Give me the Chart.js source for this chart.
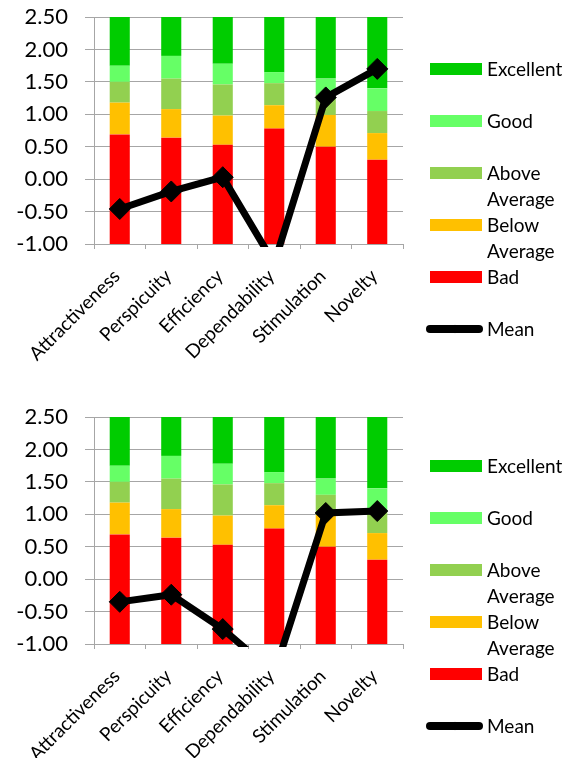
<!DOCTYPE html>
<html>
<head>
<meta charset="utf-8">
<script src="https://cdn.jsdelivr.net/npm/chart.js@4.4.1/dist/chart.umd.min.js"></script>
<style>
    html, body { margin: 0; padding: 0; background: #fff; overflow: hidden; }
    .blk { position: absolute; left: 0; width: 574px; height: 400px; }
    .leg { position: absolute; left: 426px; font-family: Lato, sans-serif; font-size: 19px; color: #000; }
    .item { position: relative; height: 52px; }
    .item .sw { position: absolute; left: 4px; top: 7px; width: 52px; height: 12px; }
    .item .tx { position: absolute; left: 61px; top: 0; width: 90px; line-height: 26px; }
    .item .ln { position: absolute; left: 0; top: 9px; width: 57px; height: 8px; border-radius: 4px; background: #000; }
    .item .dm { position: absolute; left: 26px; top: 10px; width: 6px; height: 6px; background: #000; transform: rotate(45deg); }
</style>
</head>
<body>

<div class="blk" style="top:0">
    <canvas id="chart-top" width="574" height="400"></canvas>
    <div class="leg" id="leg-top" style="top:56px"></div>
</div>
<div class="blk" style="top:400px">
    <canvas id="chart-bottom" width="574" height="400"></canvas>
    <div class="leg" id="leg-bottom" style="top:53px"></div>
</div>

<script>
/* ============================================================
   DATOS
============================================================ */
const categorias = ["Attractiveness", "Perspicuity", "Efficiency", "Dependability", "Stimulation", "Novelty"];

// límites superiores de cada franja del benchmark
const limiteBad       = [0.69, 0.64, 0.53, 0.78, 0.50, 0.30];
const limiteBelow     = [1.18, 1.08, 0.98, 1.14, 0.99, 0.71];
const limiteAbove     = [1.50, 1.55, 1.46, 1.48, 1.30, 1.05];
const limiteGood      = [1.75, 1.90, 1.78, 1.65, 1.55, 1.40];
const limiteExcellent = [2.50, 2.50, 2.50, 2.50, 2.50, 2.50];

const mediaArriba = [-0.46, -0.19, 0.03, -1.30, 1.26, 1.70];
const mediaAbajo  = [-0.35, -0.24, -0.77, -1.45, 1.02, 1.05];

const ejeMin = -1.0;
const ejeMax = 2.5;
const ejePaso = 0.5;

const franjas = [
    { label: "Bad",           tope: limiteBad,       color: "#FF0000" },
    { label: "Below Average", tope: limiteBelow,     color: "#FFC000" },
    { label: "Above Average", tope: limiteAbove,     color: "#92D050" },
    { label: "Good",          tope: limiteGood,      color: "#66FF66" },
    { label: "Excellent",     tope: limiteExcellent, color: "#00CC00" }
];

const GRIS = "#a6a6a6";
const FUENTE = "Lato, sans-serif";

/* ============================================================
   DATASETS
============================================================ */
function armarDatasets(medias) {
    const ds = [];
    let base = categorias.map(() => ejeMin);

    for (const f of franjas) {
        const piso = base;
        ds.push({
            type: "bar",
            label: f.label,
            data: f.tope.map((t, i) => [piso[i], t]),
            backgroundColor: f.color,
            borderWidth: 0,
            categoryPercentage: 1,
            barPercentage: 0.39,
            order: 1
        });
        base = f.tope;
    }

    ds.push({
        type: "line",
        label: "Mean",
        data: medias,
        borderColor: "#000",
        backgroundColor: "#000",
        borderWidth: 7,
        pointStyle: "rectRot",
        pointRadius: 10.5,
        pointBorderWidth: 1,
        pointBackgroundColor: "#000",
        pointBorderColor: "#000",
        tension: 0,
        clip: { left: 20, right: 20, top: 20, bottom: 3 },
        order: 0
    });

    return ds;
}

/* ============================================================
   LEYENDA
============================================================ */
function armarLeyenda(chart, idLeyenda) {
    const cont = document.getElementById(idLeyenda);
    cont.innerHTML = "";

    const lista = chart.data.datasets.filter(d => d.type === "bar").slice().reverse();

    for (const d of lista) {
        const it = document.createElement("div");
        it.className = "item";
        it.innerHTML = `<div class="sw" style="background:${d.backgroundColor}"></div><div class="tx">${d.label}</div>`;
        cont.appendChild(it);
    }

    const linea = chart.data.datasets.find(d => d.type === "line");
    const it = document.createElement("div");
    it.className = "item";
    it.innerHTML = `<div class="ln"></div><div class="dm"></div><div class="tx">${linea.label}</div>`;
    cont.appendChild(it);
}

/* ============================================================
   GRÁFICO
============================================================ */
function crearGrafico(idCanvas, medias, idLeyenda) {
    const ctx = document.getElementById(idCanvas);

    const chart = new Chart(ctx, {
        type: "bar",
        data: {
            labels: categorias,
            datasets: armarDatasets(medias)
        },
        options: {
            responsive: false,
            animation: false,
            layout: { padding: { top: 17, right: 171, left: 0, bottom: 0 } },
            plugins: {
                legend: { display: false },
                tooltip: { enabled: false }
            },
            scales: {
                x: {
                    stacked: true,
                    offset: true,
                    afterFit: s => { s.height = 156; },
                    grid: {
                        display: true,
                        drawOnChartArea: false,
                        drawTicks: true,
                        tickLength: 5,
                        offset: true,
                        color: GRIS
                    },
                    border: { display: true, color: GRIS },
                    ticks: {
                        color: "#000",
                        font: { family: FUENTE, size: 19 },
                        minRotation: 45,
                        maxRotation: 45,
                        padding: 16,
                        labelOffset: -3,
                        autoSkip: false
                    }
                },
                y: {
                    stacked: false,
                    min: ejeMin,
                    max: ejeMax,
                    afterFit: s => { s.width = 94; s.paddingTop = 0; s.paddingBottom = 0; },
                    grid: { color: GRIS, tickLength: 9 },
                    border: { display: true, color: GRIS },
                    ticks: {
                        stepSize: ejePaso,
                        color: "#000",
                        padding: 17,
                        font: { family: FUENTE, size: 22 },
                        callback: v => Number(v).toFixed(2)
                    }
                }
            }
        }
    });

    armarLeyenda(chart, idLeyenda);
    return chart;
}

crearGrafico("chart-top", mediaArriba, "leg-top");
crearGrafico("chart-bottom", mediaAbajo, "leg-bottom");
</script>
</body>
</html>
